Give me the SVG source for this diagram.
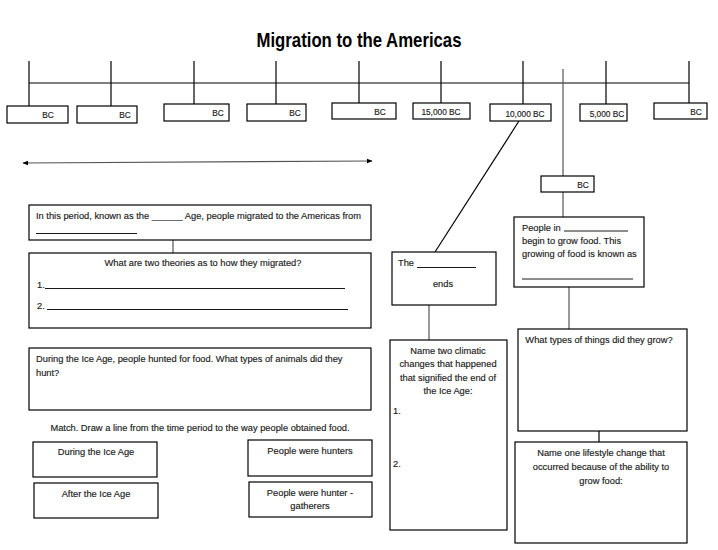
<svg xmlns="http://www.w3.org/2000/svg" width="718" height="550" viewBox="0 0 718 550">
<style>
.b{fill:#fff;stroke:#000;stroke-width:1.2}
.l{stroke:#000;stroke-width:1.2;fill:none}
.g{stroke:#555;stroke-width:1.2;fill:none}
.t{font-family:"Liberation Sans",Arial,sans-serif;font-size:9.3px;fill:#1a1a1a;stroke:#1a1a1a;stroke-width:0.15}
.s{font-family:"Liberation Sans",Arial,sans-serif;font-size:8.3px;fill:#1a1a1a;stroke:#1a1a1a;stroke-width:0.15}
.c{text-anchor:middle}
.u{stroke:#000;stroke-width:0.9}
</style>
<defs>
<marker id="ah" viewBox="0 0 10 10" refX="9" refY="5" markerWidth="6" markerHeight="6" orient="auto-start-reverse" markerUnits="userSpaceOnUse">
<path d="M0,1 L10,5 L0,9 z" fill="#000"/>
</marker>
</defs>
<rect width="718" height="550" fill="#fff"/>
<text x="359" y="47" text-anchor="middle" font-family="'Liberation Sans',Arial,sans-serif" font-weight="bold" font-size="21" textLength="205" lengthAdjust="spacingAndGlyphs" fill="#000">Migration to the Americas</text>

<g id="connectors">
<line class="l" x1="29" y1="83" x2="689" y2="83"/>
<line class="l" x1="29" y1="61" x2="29" y2="106"/>
<line class="l" x1="111" y1="61" x2="111" y2="106"/>
<line class="l" x1="194" y1="61" x2="194" y2="104"/>
<line class="l" x1="276" y1="61" x2="276" y2="104"/>
<line class="l" x1="359" y1="61" x2="359" y2="103"/>
<line class="l" x1="441" y1="61" x2="441" y2="103"/>
<line class="l" x1="523" y1="61" x2="523" y2="104"/>
<line class="l" x1="606" y1="61" x2="606" y2="104"/>
<line class="l" x1="689" y1="61" x2="689" y2="103"/>
<line class="g" x1="563" y1="69" x2="563" y2="176"/>
<line class="g" x1="563" y1="192" x2="563" y2="217"/>
<line class="l" x1="519" y1="121" x2="435" y2="252"/>
<line class="g" x1="23" y1="163" x2="372" y2="161" marker-start="url(#ah)" marker-end="url(#ah)"/>
<line class="g" x1="173" y1="240" x2="173" y2="253"/>
<line class="g" x1="429" y1="305" x2="429" y2="340"/>
<line class="g" x1="569" y1="287" x2="569" y2="329"/>
<line class="l" x1="599" y1="431" x2="599" y2="442"/>
</g>

<g id="tl1"><rect class="b" x="7" y="106" width="61" height="17"/><text class="s" x="48" y="118" text-anchor="middle">BC</text></g>
<g id="tl2"><rect class="b" x="77" y="106" width="60" height="17"/><text class="s" x="125" y="118" text-anchor="middle">BC</text></g>
<g id="tl3"><rect class="b" x="164" y="104" width="65" height="17"/><text class="s" x="218" y="116" text-anchor="middle">BC</text></g>
<g id="tl4"><rect class="b" x="247" y="104" width="59" height="17"/><text class="s" x="295" y="116" text-anchor="middle">BC</text></g>
<g id="tl5"><rect class="b" x="332" y="103" width="64" height="16"/><text class="s" x="380" y="115" text-anchor="middle">BC</text></g>
<g id="tl6"><rect class="b" x="413" y="103" width="57" height="16"/><text class="s" x="441" y="115" text-anchor="middle">15,000 BC</text></g>
<g id="tl7"><rect class="b" x="490" y="104" width="61" height="17"/><text class="s" x="525" y="117" text-anchor="middle">10,000 BC</text></g>
<g id="tl8"><rect class="b" x="580" y="104" width="47" height="17"/><text class="s" x="607" y="117" text-anchor="middle">5,000 BC</text></g>
<g id="tl9"><rect class="b" x="654" y="103" width="53" height="16"/><text class="s" x="696" y="115" text-anchor="middle">BC</text></g>

<g id="bc-small"><rect class="b" x="541" y="176" width="53" height="16"/><text class="s" x="583" y="188" text-anchor="middle">BC</text></g>

<g id="period">
<rect class="b" x="29" y="205" width="342" height="35"/>
<text class="t" x="36" y="218.5" textLength="325" lengthAdjust="spacingAndGlyphs">In this period, known as the ______ Age, people migrated to the Americas from</text>
<line class="u" x1="36" y1="233.5" x2="137" y2="233.5"/>
</g>

<g id="theories">
<rect class="b" x="29" y="253" width="342" height="75"/>
<text class="t c" x="203" y="266">What are two theories as to how they migrated?</text>
<text class="t" x="37" y="288">1.</text>
<line class="u" x1="45" y1="288.5" x2="345" y2="288.5"/>
<text class="t" x="37" y="309">2.</text>
<line class="u" x1="47" y1="309.5" x2="348" y2="309.5"/>
</g>

<g id="ends">
<rect class="b" x="392" y="252" width="104" height="53"/>
<text class="t" x="398" y="266">The</text>
<line class="u" x1="417" y1="267.5" x2="476" y2="267.5"/>
<text class="t c" x="443" y="287">ends</text>
</g>

<g id="people-in">
<rect class="b" x="514" y="217" width="130" height="70"/>
<text class="t" x="522" y="230.5">People in</text>
<line class="u" x1="564" y1="231" x2="628" y2="231"/>
<text class="t" x="522" y="244">begin to grow food. This</text>
<text class="t" x="522" y="257">growing of food is known as</text>
<line class="u" x1="522" y1="279" x2="633" y2="279"/>
</g>

<g id="grow">
<rect class="b" x="518" y="329" width="169" height="102"/>
<text class="t c" x="599" y="343">What types of things did they grow?</text>
</g>

<g id="lifestyle">
<rect class="b" x="515" y="442" width="172" height="101"/>
<text class="t c" x="601" y="456">Name one lifestyle change that</text>
<text class="t c" x="601" y="469.5">occurred because of the ability to</text>
<text class="t c" x="601" y="483.5">grow food:</text>
</g>

<g id="climatic">
<rect class="b" x="390" y="340" width="117" height="190"/>
<text class="t c" x="448" y="353.5">Name two climatic</text>
<text class="t c" x="448" y="367">changes that happened</text>
<text class="t c" x="448" y="380.5">that signified the end of</text>
<text class="t c" x="448" y="393.5">the Ice Age:</text>
<text class="t" x="393" y="414">1.</text>
<text class="t" x="393" y="467">2.</text>
</g>

<g id="hunt">
<rect class="b" x="29" y="348" width="342" height="62"/>
<text class="t" x="36" y="362">During the Ice Age, people hunted for food. What types of animals did they</text>
<text class="t" x="36" y="375.5">hunt?</text>
</g>

<text class="t c" x="200" y="431">Match. Draw a line from the time period to the way people obtained food.</text>

<g id="during"><rect class="b" x="33" y="442" width="124" height="35"/><text class="t c" x="96" y="455">During the Ice Age</text></g>
<g id="after"><rect class="b" x="34" y="483" width="124" height="35"/><text class="t c" x="96" y="497">After the Ice Age</text></g>
<g id="hunters"><rect class="b" x="248" y="440" width="124" height="36"/><text class="t c" x="310" y="453.5">People were hunters</text></g>
<g id="gatherers"><rect class="b" x="249" y="482" width="123" height="35"/><text class="t c" x="310" y="496">People were hunter -</text><text class="t c" x="310" y="509">gatherers</text></g>
</svg>
